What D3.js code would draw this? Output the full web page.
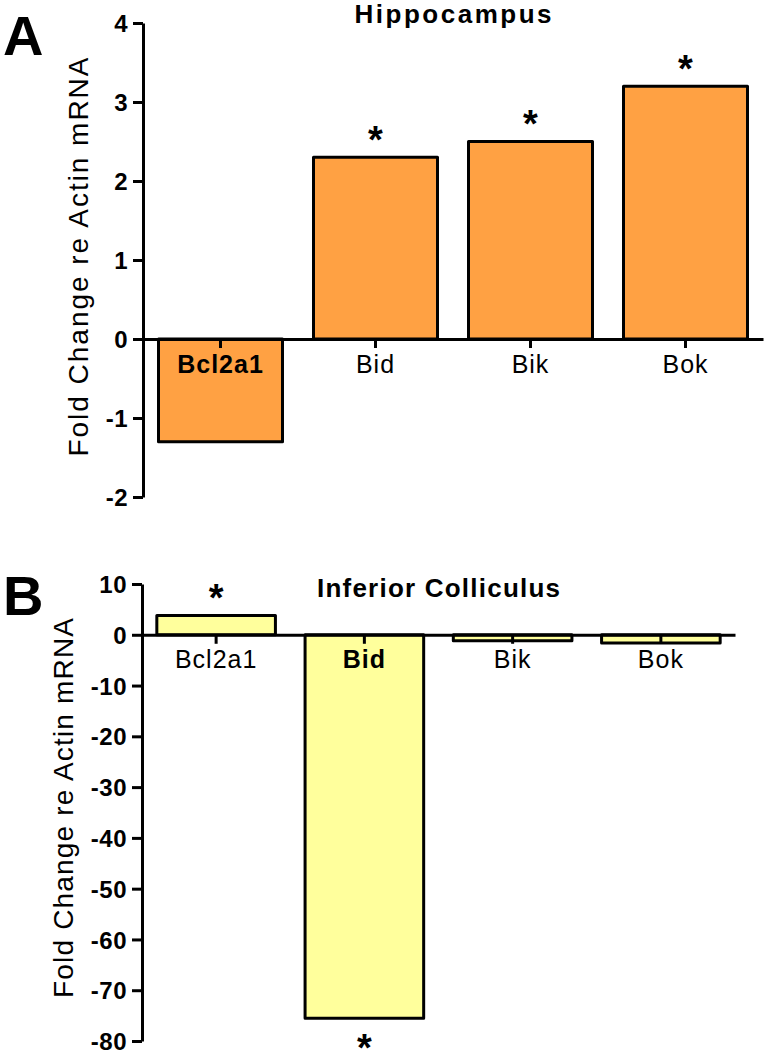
<!DOCTYPE html>
<html><head><meta charset="utf-8">
<script src="https://cdn.jsdelivr.net/npm/d3@7"></script>
<style>
html,body{margin:0;padding:0;background:#fff;}
svg{display:block;}
text{font-family:"Liberation Sans",Arial,sans-serif;fill:#000;}
</style></head>
<body>
<svg id="chart" width="765" height="1050"></svg>
<script>
// ---- data ----
const categories = ["Bcl2a1", "Bid", "Bik", "Bok"];
const hippocampusValues = [-1.3, 2.3, 2.5, 3.2];
const hippocampusSignificant = [false, true, true, true];
const colliculusValues = [3.8, -75.5, -1.2, -1.6];
const colliculusSignificant = [true, true, false, false];
const hippocampusTicks = [-2, -1, 0, 1, 2, 3, 4];
const colliculusTicks = [-80, -70, -60, -50, -40, -30, -20, -10, 0, 10];
const yLabel = "Fold Change re Actin mRNA";

const svg = d3.select("#chart");

function panel(cfg) {
  const g = svg.append("g");
  const x = d3.scaleBand().domain(categories).range([cfg.x0, cfg.x1])
    .paddingInner(0.2).paddingOuter(0.1);
  const y = d3.scaleLinear().domain(cfg.domain).range([cfg.yBottom, cfg.yTop]);

  // bars
  g.selectAll("rect.bar").data(cfg.values).join("rect")
    .attr("class", "bar")
    .attr("x", (d, i) => x(categories[i]))
    .attr("width", x.bandwidth())
    .attr("y", d => Math.min(y(d), y(0)))
    .attr("height", d => Math.abs(y(d) - y(0)))
    .attr("fill", cfg.color)
    .attr("stroke", "#000")
    .attr("stroke-width", 3)
    .attr("stroke-linejoin", "round");

  // y axis
  const ya = g.append("g").attr("transform", `translate(${cfg.x0},0)`)
    .call(d3.axisLeft(y).tickValues(cfg.ticks).tickSize(10).tickSizeOuter(0).tickPadding(5)
      .tickFormat(d => String(d)));
  ya.select(".domain").attr("stroke-width", 3);
  ya.selectAll(".tick line").attr("stroke-width", 3);
  ya.selectAll(".tick text").attr("font-size", 24).attr("font-weight", "bold")
    .attr("font-family", '"Liberation Sans",Arial,sans-serif').attr("dy", "0.36em")
    .attr("letter-spacing", 0.5);

  // x axis at zero
  const xa = g.append("g").attr("transform", `translate(0,${y(0)})`)
    .call(d3.axisBottom(x).tickSize(9).tickSizeOuter(0).tickPadding(cfg.labelPad));
  xa.select(".domain").attr("stroke-width", 3);
  xa.selectAll(".tick line").attr("stroke-width", 3);
  xa.selectAll(".tick text").attr("font-size", 25)
    .attr("font-family", '"Liberation Sans",Arial,sans-serif')
    .attr("letter-spacing", 1)
    .attr("font-weight", (d, i) => cfg.values[i] < 0 && Math.abs(y(cfg.values[i]) - y(0)) > 40 ? "bold" : "normal");

  // significance stars
  g.selectAll("text.star").data(cfg.values.map((v, i) => ({v, i, s: cfg.sig[i]})).filter(d => d.s)).join("text")
    .attr("class", "star")
    .attr("x", d => x(categories[d.i]) + x.bandwidth() / 2)
    .attr("y", d => d.v >= 0 ? y(d.v) - 26 : y(d.v) + 21)
    .attr("dy", "0.57em")
    .attr("text-anchor", "middle")
    .attr("font-size", 38)
    .attr("font-weight", "bold")
    .text("*");

  // title
  g.append("text")
    .attr("x", (cfg.x0 + cfg.x1) / 2)
    .attr("y", cfg.titleY)
    .attr("text-anchor", "middle")
    .attr("font-size", 26)
    .attr("font-weight", "bold")
    .attr("textLength", cfg.titleLen)
    .attr("lengthAdjust", "spacing")
    .text(cfg.title);

  // y label
  g.append("text")
    .attr("transform", `translate(${cfg.yLabelX},${cfg.yLabelCY}) rotate(-90)`)
    .attr("text-anchor", "middle")
    .attr("font-size", 28)
    .attr("textLength", cfg.yLabelLen)
    .attr("lengthAdjust", "spacing")
    .text(yLabel);

  // panel letter
  g.append("text")
    .attr("x", 3)
    .attr("y", cfg.letterY)
    .attr("font-size", 56)
    .attr("font-weight", "bold")
    .text(cfg.letter);
}

panel({
  values: hippocampusValues, sig: hippocampusSignificant, ticks: hippocampusTicks,
  domain: [-2, 4], yBottom: 497, yTop: 23, x0: 143, x1: 763,
  color: "#FFA143", labelPad: 7,
  title: "Hippocampus", titleY: 23, titleLen: 197,
  yLabelX: 88, yLabelCY: 257, yLabelLen: 399,
  letter: "A", letterY: 55
});

panel({
  values: colliculusValues, sig: colliculusSignificant, ticks: colliculusTicks,
  domain: [-80, 10], yBottom: 1041, yTop: 584, x0: 142, x1: 735,
  color: "#FFFF9C", labelPad: 6,
  title: "Inferior Colliculus", titleY: 597, titleLen: 243,
  yLabelX: 73, yLabelCY: 808, yLabelLen: 380,
  letter: "B", letterY: 615
});
</script>
</body></html>
